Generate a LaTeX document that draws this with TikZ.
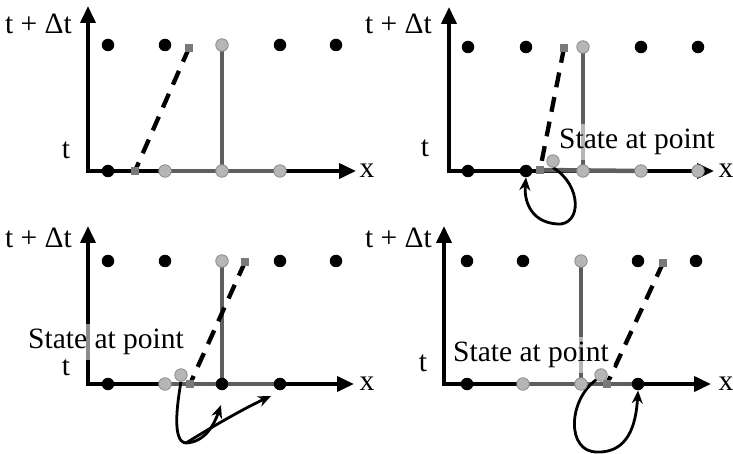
\documentclass[tikz,border=0pt]{standalone}
\usepackage{fontspec}
\setmainfont{Liberation Serif}
\usetikzlibrary{arrows.meta}
\definecolor{dgray}{HTML}{5E5E5E}
\definecolor{lgray}{HTML}{B6B6B6}
\definecolor{mgray}{HTML}{8E8E8E}
\definecolor{sgray}{HTML}{7A7A7A}
\pgfdeclarelayer{back}
\pgfdeclarelayer{bg}
\pgfdeclarelayer{mid}
\pgfsetlayers{back,bg,mid,main}
\begin{document}
\begin{tikzpicture}[x=1pt,y=-1pt,
  every node/.style={font=\fontsize{29.5}{32}\selectfont, inner sep=0pt},
  bd/.style={circle, fill=black, minimum size=12.5pt},
  gd/.style={circle, fill=lgray, draw=mgray, line width=0.8pt, minimum size=12.5pt},
  sq/.style={rectangle, fill=sgray, minimum size=7.5pt},
  axis/.style={line width=3.8pt, {Triangle[length=17pt,width=15pt]}-{Triangle[length=17pt,width=15pt]}},
  gline/.style={line width=4.5pt, dgray},
  vline/.style={line width=3.4pt, dgray},
  dline/.style={line width=4.3pt, dash pattern=on 15pt off 10pt},
  curv/.style={line width=2.8pt, -{Stealth[length=13pt,width=11pt]}},
  state/.style={fill=white, fill opacity=0.55, text opacity=1, inner sep=5pt}
]
\begin{pgfonlayer}{back}
\fill[white] (0,0) rectangle (733,454);
\end{pgfonlayer}
\useasboundingbox (0,0) rectangle (733,454);

% ================= Panel 1 =================
\coordinate (p1y) at (88,6);
\coordinate (p1o) at (88,171);
\coordinate (p1x) at (356,171);
\node[bd] (p1t1) at (108,45) {};
\node[bd] (p1t2) at (165,45) {};
\node[gd] (p1t3) at (222,45) {};
\node[bd] (p1t4) at (280,45) {};
\node[bd] (p1t5) at (336,45) {};
\node[sq] (p1ts) at (189,48) {};
\node[bd] (p1b1) at (108,171) {};
\node[sq] (p1bs) at (135,171) {};
\node[gd] (p1b2) at (165,171) {};
\node[gd] (p1b3) at (222,171) {};
\node[gd] (p1b4) at (280,171) {};
\begin{pgfonlayer}{bg}
\draw[axis] (p1y) -- (p1o) -- (p1x);
\draw[gline] (p1b2.center) -- (p1b4.center);
\draw[vline] (p1t3.center) -- (p1b3.center);
\draw[dline] (p1ts.center) -- (p1bs.center);
\node[anchor=east] (p1l1) at (72,24) {t + Δt};
\node (p1l2) at (66,150) {t};
\node (p1l3) at (367,171) {x};
\end{pgfonlayer}

% ================= Panel 2 =================
\coordinate (p2y) at (449,7);
\coordinate (p2o) at (449,171);
\coordinate (p2x) at (714,171);
\node[bd] (p2t1) at (468,47) {};
\node[bd] (p2t2) at (526,47) {};
\node[gd] (p2t3) at (583,47) {};
\node[bd] (p2t4) at (641,47) {};
\node[bd] (p2t5) at (698,47) {};
\node[sq] (p2ts) at (564,48) {};
\node[bd] (p2b1) at (468,171) {};
\node[bd] (p2b2) at (526,171) {};
\node[sq] (p2bs) at (540,170) {};
\node[gd] (p2b3) at (583,171) {};
\node[gd] (p2b4) at (641,171) {};
\node[gd] (p2b5) at (698,171) {};
\node[gd] (p2r) at (553,161) {};
\begin{pgfonlayer}{bg}
\draw[axis] (p2y) -- (p2o) -- (p2x);
\draw[gline] (p2bs.center) -- (p2b4.center);
\draw[vline] (p2t3.center) -- (p2b3.center);
\draw[dline] (p2ts.center) -- (p2bs.center);
\node[anchor=east] (p2l1) at (432,24) {t + Δt};
\node (p2l2) at (425,148) {t};
\node (p2l3) at (726,171) {x};
\draw[curv] (p2r.south) .. controls (582,185) and (582,226) .. (557,224)
  .. controls (530,222) and (524,200) .. (p2b2.south);
\end{pgfonlayer}
\begin{pgfonlayer}{mid}
\node[state] (p2s) at (637,142) {State at point};
\end{pgfonlayer}

% ================= Panel 3 =================
\coordinate (p3y) at (88,226);
\coordinate (p3o) at (88,384);
\coordinate (p3x) at (354,384);
\node[bd] (p3t1) at (108,261) {};
\node[bd] (p3t2) at (165,261) {};
\node[gd] (p3t3) at (222,261) {};
\node[bd] (p3t4) at (280,261) {};
\node[bd] (p3t5) at (336,261) {};
\node[sq] (p3ts) at (245,262) {};
\node[bd] (p3b1) at (108,384) {};
\node[gd] (p3b2) at (165,384) {};
\node[sq] (p3bs) at (190,384) {};
\node[bd] (p3b3) at (222,384) {};
\node[bd] (p3b4) at (280,384) {};
\node[gd] (p3r) at (181,375) {};
\coordinate (p3j) at (186,443);
\coordinate (p3a) at (221,405);
\coordinate (p3c) at (271,396);
\begin{pgfonlayer}{bg}
\draw[axis] (p3y) -- (p3o) -- (p3x);
\draw[gline] (p3b2.center) -- (p3b4.center);
\draw[vline] (p3t3.center) -- (p3b3.center);
\draw[dline] (p3ts.center) -- (p3bs.center);
\node[anchor=east] (p3l1) at (72,238) {t + Δt};
\node (p3l2) at (66,367) {t};
\node (p3l3) at (367,384) {x};
\draw[line width=2.8pt] (p3r.south) .. controls (177,405) and (172,442) .. (p3j);
\draw[curv] (p3j) .. controls (205,442) and (214,425) .. (p3a);
\draw[curv] (p3j) .. controls (215,425) and (245,408) .. (p3c);
\end{pgfonlayer}
\begin{pgfonlayer}{mid}
\node[state] (p3s) at (106,342) {State at point};
\end{pgfonlayer}

% ================= Panel 4 =================
\coordinate (p4y) at (444,226);
\coordinate (p4o) at (444,384);
\coordinate (p4x) at (711,384);
\node[bd] (p4t1) at (467,261) {};
\node[bd] (p4t2) at (523,261) {};
\node[gd] (p4t3) at (581,261) {};
\node[bd] (p4t4) at (638,261) {};
\node[bd] (p4t5) at (696,261) {};
\node[sq] (p4ts) at (663,263) {};
\node[bd] (p4b1) at (467,384) {};
\node[gd] (p4b2) at (523,384) {};
\node[gd] (p4b3) at (581,384) {};
\node[sq] (p4bs) at (607,384) {};
\node[bd] (p4b4) at (638,384) {};
\node[gd] (p4r) at (601,375) {};
\begin{pgfonlayer}{bg}
\draw[axis] (p4y) -- (p4o) -- (p4x);
\draw[gline] (p4b2.center) -- (p4b4.center);
\draw[vline] (p4t3.center) -- (p4b3.center);
\draw[dline] (p4ts.center) -- (p4bs.center);
\node[anchor=east] (p4l1) at (432,238) {t + Δt};
\node (p4l2) at (423,363) {t};
\node (p4l3) at (726,384) {x};
\draw[curv] (p4r.south west) .. controls (568,400) and (566,452) .. (597,452)
  .. controls (628,453) and (636,425) .. (p4b4.south);
\end{pgfonlayer}
\begin{pgfonlayer}{mid}
\node[state] (p4s) at (531,355) {State at point};
\end{pgfonlayer}
\end{tikzpicture}
\end{document}
